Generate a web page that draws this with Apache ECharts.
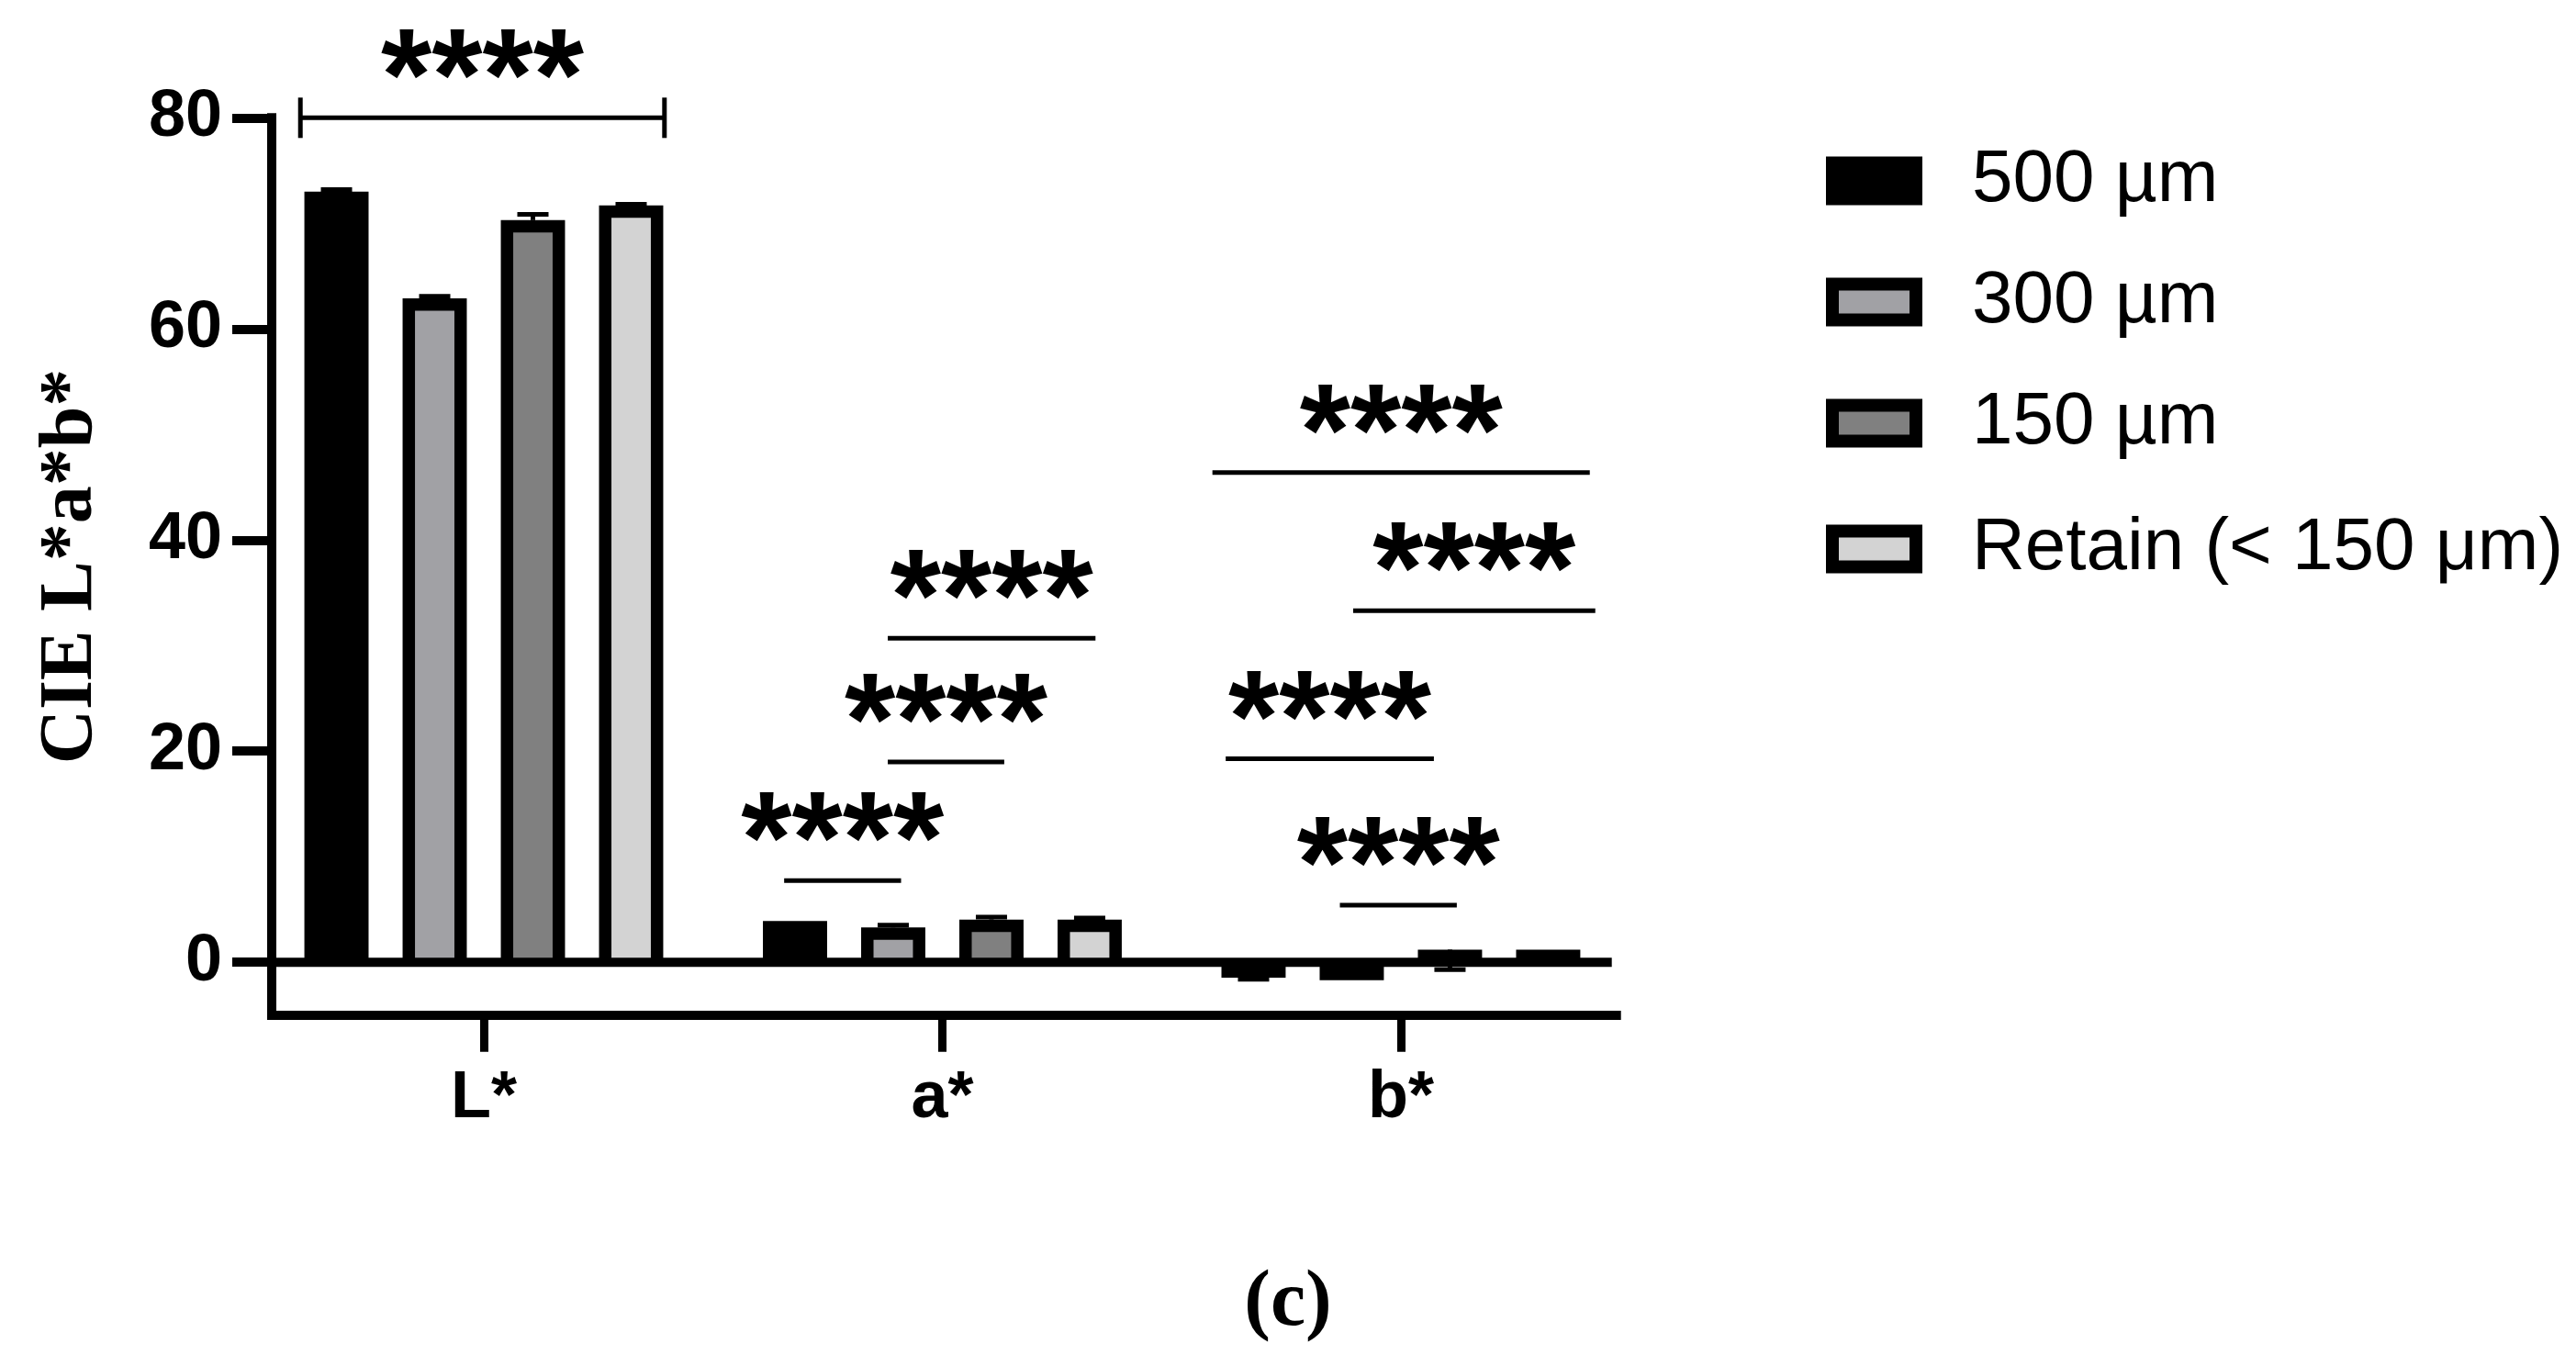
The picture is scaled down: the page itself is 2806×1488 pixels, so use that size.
<!DOCTYPE html>
<html><head><meta charset="utf-8">
<script src="https://cdn.jsdelivr.net/npm/echarts@6/dist/echarts.min.js"></script>
<style>html,body{margin:0;padding:0;background:#fff}#c{width:2806px;height:1488px}</style>
</head><body><div id="c"></div>
<script>
// ---- data ----
const categories = ['L*', 'a*', 'b*'];
const seriesNames = ['500 \u00b5m', '300 \u00b5m', '150 \u00b5m', 'Retain (< 150 \u03bcm)'];
const seriesColors = ['#000000', '#a1a1a5', '#808080', '#d3d3d3'];
const mean500    = [73.0, 3.9, -1.45];
const mean300    = [62.9, 3.3, -1.7];
const mean150    = [70.3, 4.05, 1.2];
const meanRetain = [71.7, 4.05, 1.2];
// error bar length (positive = drawn upward, negative = drawn downward)
const err500    = [0.2, 0, -0.17];
const err300    = [0.2, 0.22, 0];
const err150    = [0.55, 0.22, -1.9];
const errRetain = [0.1, 0.15, 0];
const yTicks = [0, 20, 40, 60, 80];
const xTicks = [0, 1, 2];
// significance lines (x in category units, y in value units)
const sigX1 = [-0.400, 0.655, 0.881, 0.881, 1.589, 1.896, 1.618, 1.867];
const sigX2 = [ 0.394, 0.910, 1.135, 1.334, 2.412, 2.424, 2.072, 2.122];
const sigY  = [ 80.0,  7.73, 18.97, 30.7, 46.4, 33.3, 19.27, 5.42];
const sigBracket = [1, 0, 0, 0, 0, 0, 0, 0];
const sigText = ['****', '****', '****', '****', '****', '****', '****', '****'];

// ---- layout constants ----
const BAR_PITCH = 0.2142;   // category units between bar centres
const BAR_WIDTH = 0.140;    // category units
const BORDER = 13.5;
const SANS = 'Liberation Sans, Arial, sans-serif';
const SERIF = 'Liberation Serif, Times New Roman, serif';
const LEGEND_CENTERS = [197, 329, 461, 598];

const means = [mean500, mean300, mean150, meanRetain];
const errs = [err500, err300, err150, errRetain];

function barSeries(i) {
  return {
    type: 'custom', name: seriesNames[i], z: 2, silent: true,
    data: means[i].map((m, k) => [k, m, errs[i][k]]),
    encode: { x: 0, y: 1 },
    renderItem: function (params, api) {
      const k = api.value(0), v = api.value(1), e = api.value(2);
      const xc = k + (i - 1.5) * BAR_PITCH;
      const p0 = api.coord([xc, 0]);
      const p1 = api.coord([xc, v]);
      const w = api.size([BAR_WIDTH, 0])[0];
      const top = Math.min(p0[1], p1[1]);
      const h = Math.abs(p0[1] - p1[1]);
      const children = [{
        type: 'rect', shape: { x: p0[0] - w / 2, y: top, width: w, height: h },
        style: { fill: '#000' }
      }];
      if (i > 0 && h > BORDER && v > 0) {
        children.push({
          type: 'rect',
          shape: { x: p0[0] - w / 2 + BORDER, y: p1[1] + BORDER, width: w - 2 * BORDER, height: h - BORDER },
          style: { fill: seriesColors[i] }
        });
      }
      if (e !== 0) {
        const pe = api.coord([xc, v + e]);
        children.push({ type: 'line', shape: { x1: p0[0], y1: p1[1], x2: p0[0], y2: pe[1] }, style: { stroke: '#000', lineWidth: 5 } });
        children.push({ type: 'line', shape: { x1: p0[0] - 17, y1: pe[1], x2: p0[0] + 17, y2: pe[1] }, style: { stroke: '#000', lineWidth: 5 } });
      }
      return { type: 'group', children: children };
    }
  };
}

const zeroLineSeries = {
  type: 'custom', name: 'zero', z: 5, silent: true,
  data: [[0, 0]], encode: { x: 0, y: 1 },
  renderItem: function (params, api) {
    const cs = params.coordSys;
    const y = api.coord([0, 0])[1];
    return { type: 'line', shape: { x1: cs.x, y1: y, x2: cs.x + cs.width - 5, y2: y }, style: { stroke: '#000', lineWidth: 10 } };
  }
};

const sigSeries = {
  type: 'custom', name: 'sig', z: 6, silent: true,
  data: sigX1.map((x, j) => [x, sigX2[j], sigY[j], sigBracket[j], j]),
  encode: { x: [0, 1], y: 2 },
  renderItem: function (params, api) {
    const a = api.coord([api.value(0), api.value(2)]);
    const b = api.coord([api.value(1), api.value(2)]);
    const j = api.value(4);
    const ch = [{ type: 'line', shape: { x1: a[0], y1: a[1], x2: b[0], y2: b[1] }, style: { stroke: '#000', lineWidth: 5 } }];
    if (api.value(3)) {
      ch.push({ type: 'line', shape: { x1: a[0], y1: a[1] - 22, x2: a[0], y2: a[1] + 22 }, style: { stroke: '#000', lineWidth: 5 } });
      ch.push({ type: 'line', shape: { x1: b[0], y1: b[1] - 22, x2: b[0], y2: b[1] + 22 }, style: { stroke: '#000', lineWidth: 5 } });
    }
    ch.push({
      type: 'text',
      style: { text: sigText[j], x: (a[0] + b[0]) / 2, y: a[1] - 37, fill: '#000',
        font: 'bold 142px ' + SANS, align: 'center', verticalAlign: 'middle' }
    });
    return { type: 'group', children: ch };
  }
};

const legends = seriesNames.map((n, i) => ({
  orient: 'vertical', left: 1989, top: LEGEND_CENTERS[i] - 45, padding: 0,
  itemWidth: 91, itemHeight: 39, selectedMode: false,
  textStyle: { fontFamily: SANS, fontSize: 80, lineHeight: 80, color: '#000', padding: [10, 0, 0, 56] },
  data: [{ name: n, icon: 'rect', itemStyle: { color: seriesColors[i], borderColor: '#000', borderWidth: 14 } }]
}));

const chart = echarts.init(document.getElementById('c'), null, { renderer: 'canvas' });
chart.setOption({
  animation: false,
  backgroundColor: '#fff',
  title: {
    text: '(c)', left: 'center', top: 1373,
    textStyle: { fontFamily: SERIF, fontWeight: 'bold', fontSize: 86, color: '#000' }
  },
  legend: legends,
  grid: { left: 296, top: 128.3, width: 1464.7, height: 977.4, outerBoundsMode: 'none', containLabel: false },
  xAxis: {
    type: 'value', min: -0.4625, max: 2.4700,
    axisLine: { show: true, onZero: false, lineStyle: { color: '#000', width: 10, cap: 'square' } },
    axisTick: { show: true, customValues: xTicks, length: 40, lineStyle: { color: '#000', width: 9 } },
    axisLabel: { customValues: xTicks, margin: 55, formatter: v => categories[Math.round(v)] || '',
      fontFamily: SANS, fontWeight: 'bold', fontSize: 72, color: '#000' },
    splitLine: { show: false }
  },
  yAxis: {
    type: 'value', min: -5, max: 80,
    name: 'CIE L*a*b*', nameLocation: 'middle', nameGap: 177, nameRotate: 90,
    nameTextStyle: { fontFamily: SERIF, fontWeight: 'bold', fontSize: 82, color: '#000' },
    axisLine: { show: true, onZero: false, lineStyle: { color: '#000', width: 10, cap: 'square' } },
    axisTick: { show: true, customValues: yTicks, length: 43, lineStyle: { color: '#000', width: 10 } },
    axisLabel: { customValues: yTicks, margin: 54, fontFamily: SANS, fontWeight: 'bold', fontSize: 72, color: '#000' },
    splitLine: { show: false }
  },
  series: [barSeries(0), barSeries(1), barSeries(2), barSeries(3), zeroLineSeries, sigSeries]
});
</script></body></html>
